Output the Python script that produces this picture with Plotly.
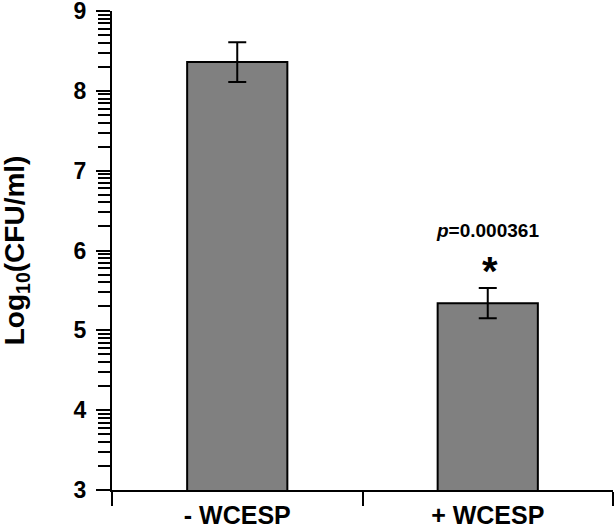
import numpy as np
import plotly.graph_objects as go

groups = ["- WCESP", "+ WCESP"]
log_cfu = [8.36, 5.34]
sem = [0.25, 0.19]
star_y = 5.84
p_y = 6.25

font = "Liberation Sans, Arial, sans-serif"

# log-style minor ticks between integer majors
minor_vals = [n + np.log10(k) for n in range(3, 9) for k in range(2, 10)]

fig = go.Figure()
fig.add_trace(
    go.Bar(
        x=groups,
        y=log_cfu,
        width=0.4,
        marker=dict(color="#808080", line=dict(color="black", width=2)),
        error_y=dict(type="data", array=sem, color="black", thickness=2, width=9),
    )
)

fig.add_annotation(
    x=groups[1], y=p_y, text="<b><i>p</i>=0.000361</b>", showarrow=False,
    font=dict(family=font, size=19, color="black"),
)
fig.add_annotation(
    x=groups[1], y=star_y, text="<b>*</b>", showarrow=False, yanchor="middle",
    font=dict(family=font, size=40, color="black"), yshift=-8, xshift=2,
)
# y title placed by hand, the axis title gets clamped inside the margin
fig.add_annotation(
    xref="paper", yref="paper", x=-0.19, y=0.5, xanchor="center", yanchor="middle",
    text="<b>Log<sub>10</sub>(CFU/ml)</b>", textangle=-90, showarrow=False,
    font=dict(family=font, size=28, color="black"),
)

fig.update_layout(
    width=615,
    height=530,
    margin=dict(l=112, r=2, t=11, b=40),
    paper_bgcolor="white",
    plot_bgcolor="white",
    showlegend=False,
    font=dict(family=font, color="black"),
)
fig.update_xaxes(
    type="category", automargin=False,
    showline=True, linecolor="black", linewidth=2,
    ticks="outside", tickson="boundaries", ticklen=14, tickwidth=2, tickcolor="black",
    tickfont=dict(family=font, size=25, color="black", weight="bold"),
    ticklabelstandoff=2,
    showgrid=False,
)
fig.update_yaxes(
    range=[3, 9], automargin=False,
    tickvals=[3, 4, 5, 6, 7, 8, 9],
    ticklabeloverflow="allow",
    showline=True, linecolor="black", linewidth=2,
    ticks="outside", ticklen=14, tickwidth=2, tickcolor="black",
    tickfont=dict(family=font, size=23, color="black", weight="bold"),
    ticklabelstandoff=5,
    showgrid=False, zeroline=False,
    minor=dict(tickmode="array", tickvals=minor_vals, ticks="outside",
               ticklen=12, tickwidth=1.5, tickcolor="black", showgrid=False),
)

# drop the default 8px page margin so the figure sits at the window corner
fig.write_html("out.html", config={"displayModeBar": False},
               post_script="document.body.style.margin='0px';")
